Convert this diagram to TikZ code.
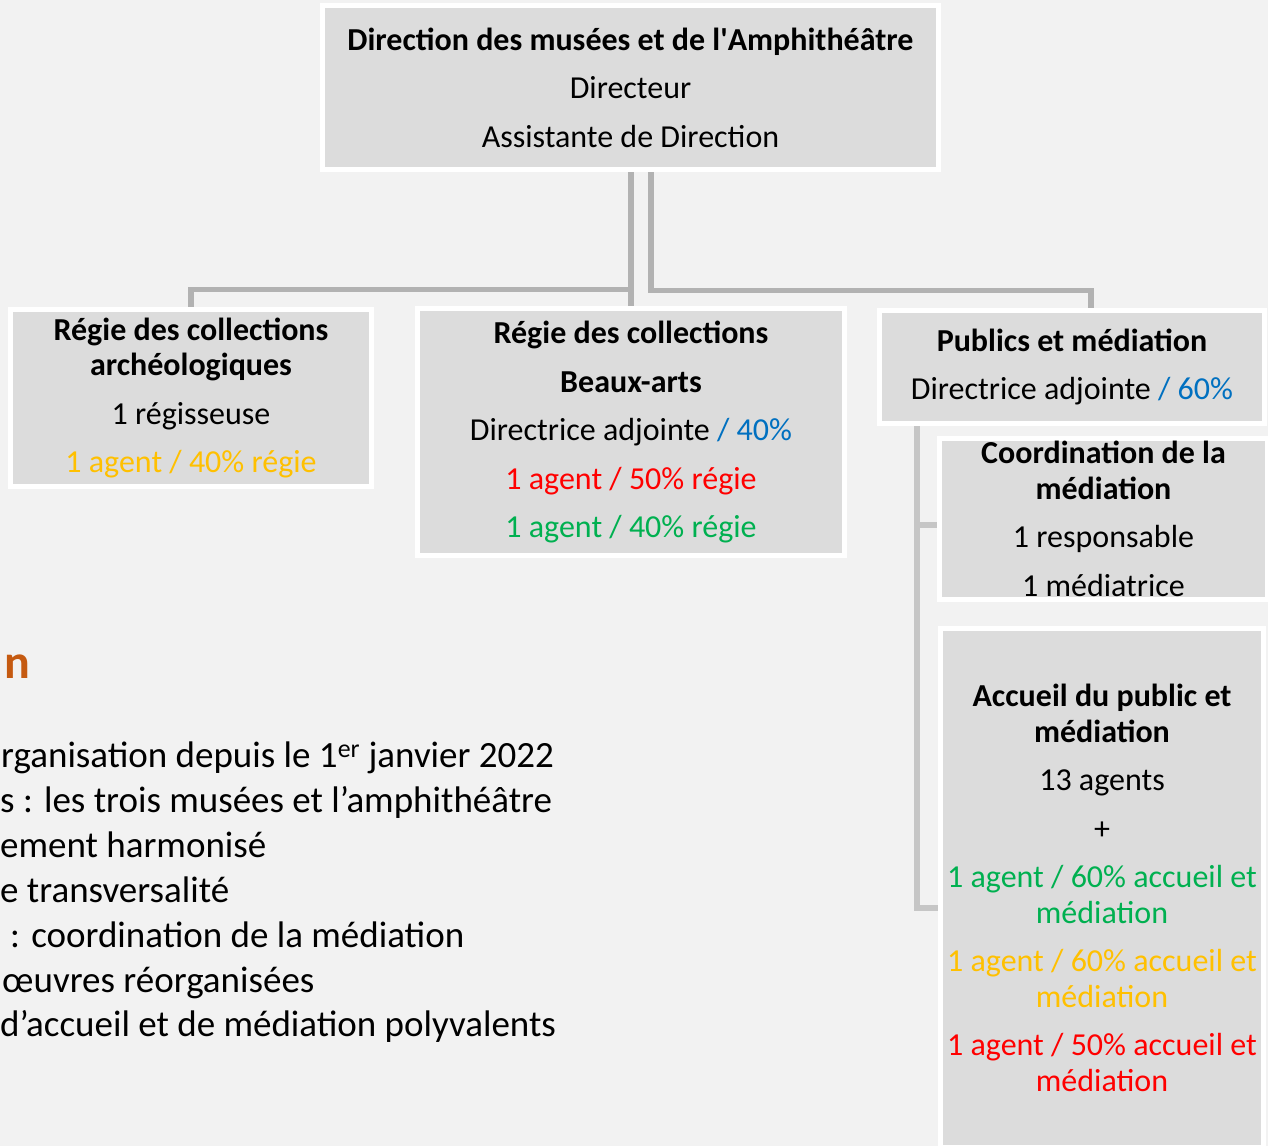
\documentclass[tikz,border=0pt]{standalone}
\usepackage{fontspec}
\setmainfont{Carlito}
\usetikzlibrary{positioning,backgrounds}
\definecolor{pagegrey}{HTML}{F2F2F2}
\definecolor{boxgrey}{HTML}{DCDCDC}
\definecolor{conngrey}{HTML}{B2B2B2}
\definecolor{subgrey}{HTML}{C6C6C6}
\definecolor{adjblue}{HTML}{0070C0}
\definecolor{regiegold}{HTML}{FFC000}
\definecolor{regiered}{HTML}{FF0000}
\definecolor{regiegreen}{HTML}{00B050}
\definecolor{titleorange}{HTML}{C55A11}

\begin{document}
\begin{tikzpicture}[x=1pt,y=-1pt,line join=miter,
    orgbox/.style={fill=boxgrey,draw=white,line width=5pt,align=center,inner sep=0pt,
      font=\fontsize{32}{35.5}\selectfont},
    conn/.style={draw=conngrey,line width=5.5pt},
    subconn/.style={draw=subgrey,line width=6pt},
    notetext/.style={anchor=base west,inner sep=0pt,font=\fontsize{37}{45}\selectfont}]
    \useasboundingbox (0,0) rectangle (1268,1146);
    \begin{pgfonlayer}{background}
      \fill[pagegrey] (0,0) rectangle (1268,1146);
    \end{pgfonlayer}

    \node[orgbox,minimum width=616pt,minimum height=164pt] (dir) at (630.5,87.5)
      {\textbf{Direction des musées et de l\textquotesingle Amphithéâtre}\\[13pt]Directeur\\[13pt]Assistante de Direction};
    \node[orgbox,minimum width=361pt,minimum height=177pt] (regA) at (191,398)
      {\textbf{Régie des collections}\\\textbf{archéologiques}\\[13pt]1 régisseuse\\[13pt]\textcolor{regiegold}{1 agent / 40\% régie}};
    \node[orgbox,minimum width=427pt,minimum height=247pt] (regB) at (631,432)
      {\textbf{Régie des collections}\\[13pt]\textbf{Beaux-arts}\\[13pt]Directrice adjointe \textcolor{adjblue}{/ 40\%}\\[13pt]\textcolor{regiered}{1 agent / 50\% régie}\\[13pt]\textcolor{regiegreen}{1 agent / 40\% régie}};
    \node[orgbox,minimum width=385pt,minimum height=113pt] (pub) at (1072,367)
      {\textbf{Publics et médiation}\\[13pt]Directrice adjointe \textcolor{adjblue}{/ 60\%}};
    \node[orgbox,minimum width=328pt,minimum height=161pt] (coord) at (1103.5,519)
      {\textbf{Coordination de la}\\\textbf{médiation}\\[13pt]1 responsable\\[13pt]1 médiatrice};
    \node[orgbox,minimum width=323pt,minimum height=519pt] (acc) at (1102,888)
      {\textbf{Accueil du public et}\\\textbf{médiation}\\[13pt]13 agents\\[13pt]+\\[13pt]%
       \textcolor{regiegreen}{1 agent / 60\% accueil et}\\\textcolor{regiegreen}{médiation}\\[13pt]%
       \textcolor{regiegold}{1 agent / 60\% accueil et}\\\textcolor{regiegold}{médiation}\\[13pt]%
       \textcolor{regiered}{1 agent / 50\% accueil et}\\\textcolor{regiered}{médiation}};

    \coordinate (busL) at (631,289.5);
    \coordinate (busR) at (1091,290.5);
    \coordinate (pubstem) at (916.5,424);
    \begin{pgfonlayer}{background}
      \draw[conn] (regB.north |- dir.south) -- (regB.north);
      \draw[conn] (busL) -| (regA.north);
      \draw[conn] ([xshift=20.5pt]dir.south) |- (busR) -- ([xshift=19pt]pub.north);
      \draw[subconn] (pubstem) |- ([yshift=-5.5pt]coord.west);
      \draw[subconn] (pubstem) |- ([yshift=-20pt]acc.west);
    \end{pgfonlayer}

    \node[anchor=base west,inner sep=0pt,text=titleorange,font=\bfseries\fontsize{48}{50}\selectfont] (ttl) at (4,678) {n};
    \node[notetext] (ln1) at (1,767) {rganisation depuis le 1\textsuperscript{er} janvier 2022};
    \node[notetext] (ln2) at (0,812) {s : les trois musées et l’amphithéâtre};
    \node[notetext] (ln3) at (0,857) {ement harmonisé};
    \node[notetext] (ln4) at (0,902) {e transversalité};
    \node[notetext] (ln5) at (10,947) {: coordination de la médiation};
    \node[notetext] (ln6) at (2,992) {œuvres réorganisées};
    \node[notetext] (ln7) at (0,1036) {d’accueil et de médiation polyvalents};
  \end{tikzpicture}
\end{document}
